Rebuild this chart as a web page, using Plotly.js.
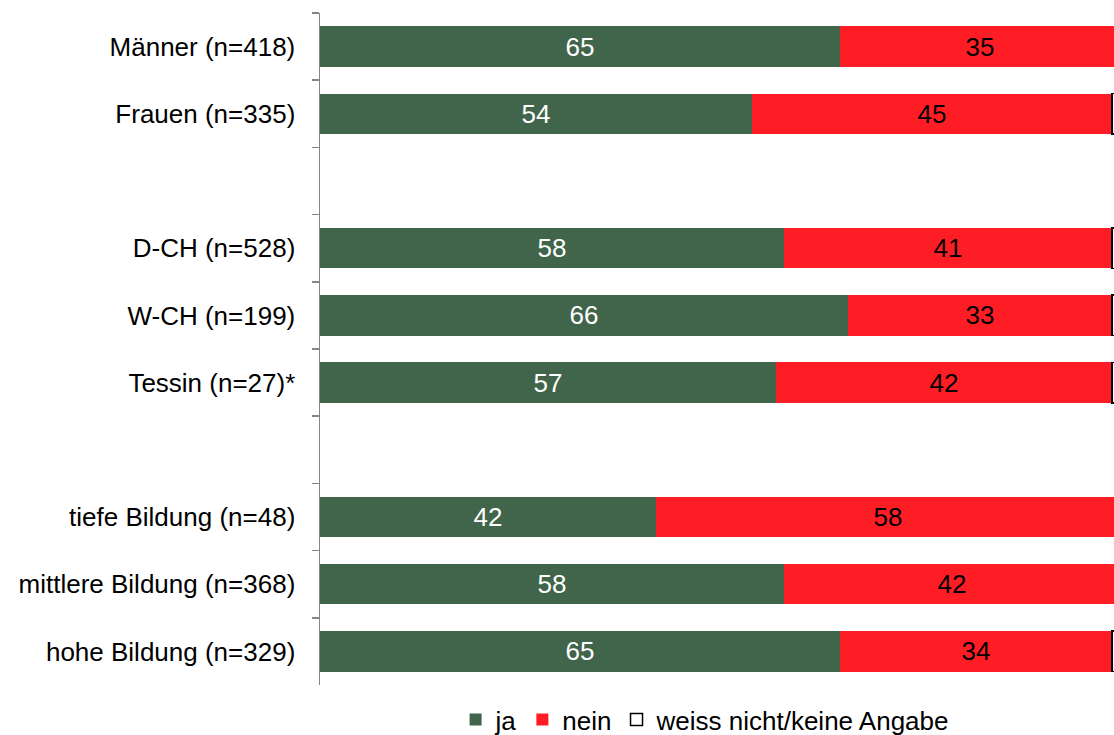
<!DOCTYPE html>
<html>
<head>
<meta charset="utf-8">
<script src="https://cdn.plot.ly/plotly-3.0.1.min.js"></script>
<style>
  html, body { margin: 0; padding: 0; background: #ffffff; }
  #chart { width: 1114px; height: 735px; }
</style>
</head>
<body>
<div id="chart"></div>
<script>
// Groups, top to bottom; blank spacer rows separate the three blocks
const categories = [
  "Männer (n=418)", "Frauen (n=335)", " ",
  "D-CH (n=528)", "W-CH (n=199)", "Tessin (n=27)*", "  ",
  "tiefe Bildung (n=48)", "mittlere Bildung (n=368)", "hohe Bildung (n=329)"
];
const ja    = [65, 54, null, 58, 66, 57, null, 42, 58, 65];
const nein  = [35, 45, null, 41, 33, 42, null, 58, 42, 34];
const weissNicht = [0, 1, null, 1, 1, 1, null, 0, 0, 1];

const font = "Liberation Sans, Arial, sans-serif";
const fs = 26;

const traces = [
  {
    name: "ja", type: "bar", orientation: "h",
    y: categories, x: ja,
    marker: { color: "#41654a" },
    text: ja.map(v => v == null ? "" : String(v)),
    textposition: "inside", insidetextanchor: "middle",
    textfont: { family: font, size: fs, color: "#ffffff" },
    hoverinfo: "skip"
  },
  {
    name: "nein", type: "bar", orientation: "h",
    y: categories, x: nein,
    marker: { color: "#ff1d25" },
    text: nein.map(v => v == null ? "" : String(v)),
    textposition: "inside", insidetextanchor: "middle",
    textfont: { family: font, size: fs, color: "#000000" },
    hoverinfo: "skip"
  },
  {
    name: "weiss nicht/keine Angabe", type: "bar", orientation: "h",
    y: categories, x: weissNicht,
    marker: { color: "#ffffff", line: { color: "#000000", width: 1.5 } },
    textposition: "none",
    hoverinfo: "skip"
  }
];

const layout = {
  width: 1114, height: 735,
  paper_bgcolor: "#ffffff", plot_bgcolor: "#ffffff",
  barmode: "stack", bargap: 0.4,
  margin: { l: 320, r: 0, t: 13, b: 50, autoexpand: false },
  font: { family: font, size: fs, color: "#000000" },
  showlegend: true,
  legend: {
    orientation: "h", x: 0.485, xanchor: "center", xref: "paper",
    yref: "container", y: 0.053, yanchor: "top",
    font: { family: font, size: fs, color: "#000000" },
    itemwidth: 16, traceorder: "normal"
  },
  xaxis: {
    range: [0, 99.25], visible: false, fixedrange: true
  },
  yaxis: {
    type: "category",
    categoryorder: "array", categoryarray: categories,
    autorange: "reversed",
    showline: true, linecolor: "#868686", linewidth: 1.5,
    ticks: "outside", ticklen: 7, tickcolor: "#868686", tickwidth: 1.5,
    tickson: "boundaries",
    showgrid: false, zeroline: false,
    ticklabelstandoff: 18,
    tickfont: { family: font, size: fs, color: "#000000" }
  }
};

Plotly.newPlot("chart", traces, layout, { displayModeBar: false, staticPlot: true });
</script>
</body>
</html>
